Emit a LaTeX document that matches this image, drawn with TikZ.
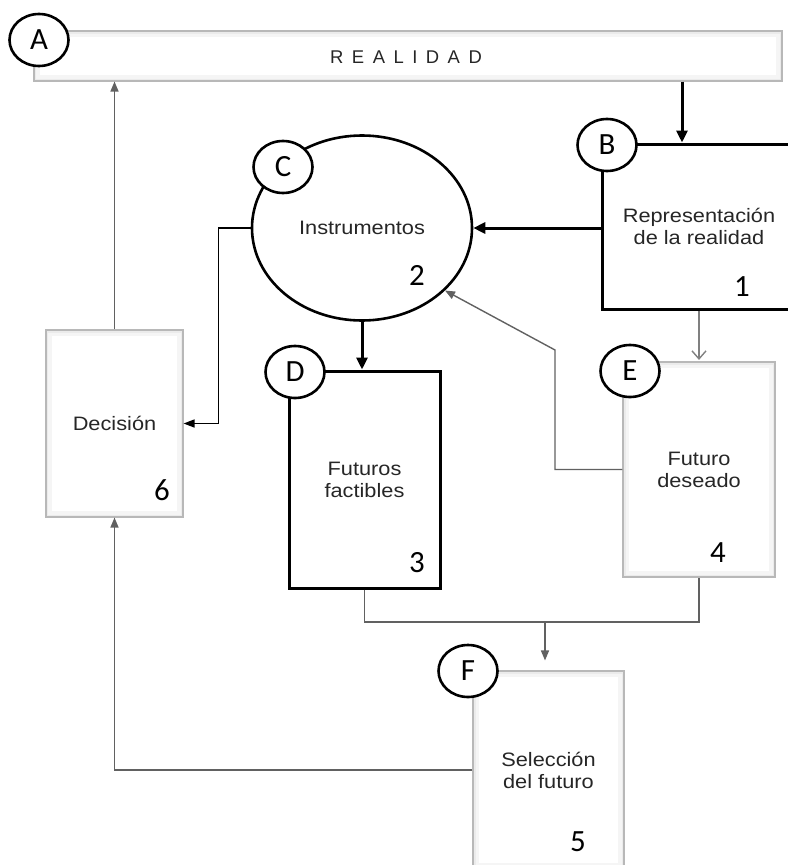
\documentclass[tikz,border=0pt]{standalone}
\usepackage{fontspec}
\usepackage{graphicx}
\setmainfont{Liberation Sans}
\newfontfamily\numfont{Carlito}
\usetikzlibrary{shapes.geometric,arrows.meta}
\newcommand\wt[1]{\scalebox{1.12}[1]{#1}}
\tikzset{
  lightbox/.style={rectangle, draw=black!28, line width=1.1bp, fill=white, inner sep=0pt,
    path picture={\draw[black!4, line width=12bp] (path picture bounding box.south west) rectangle (path picture bounding box.north east);
                  \draw[black!8, line width=5bp] (path picture bounding box.south west) rectangle (path picture bounding box.north east);},
    font=\fontsize{19.5}{22}\selectfont, align=center, text=black!85},
  darkbox/.style={rectangle, draw=black, line width=3bp, fill=white, inner sep=0pt,
    font=\fontsize{19.5}{22}\selectfont, align=center, text=black!85},
  tag/.style={ellipse, draw=black, line width=2.6bp, fill=white, minimum width=59bp,
    minimum height=52bp, inner sep=0pt, font=\numfont\fontsize{31}{31}\selectfont},
  numlabel/.style={inner sep=0pt, font=\numfont\fontsize{31}{31}\selectfont},
  bigarrow/.style={line width=3bp, draw=black, -{Triangle[length=12bp,width=11bp]}},
  thinblack/.style={line width=1.5bp, draw=black, -{Triangle[length=11bp,width=8bp]}},
  thingray/.style={line width=1.4bp, draw=black!62},
  grayarrow/.style={thingray, -{Triangle[length=10bp,width=8bp]}},
  openarrow/.style={thingray, draw=black!50, -{Straight Barb[length=8bp,width=14bp]}}
}
\begin{document}
\begin{tikzpicture}[x=1bp, y=-1bp]
\useasboundingbox (0,0) rectangle (788,865);
\clip (0,0) rectangle (788,865);

% boxes
\node[lightbox, minimum width=748bp, minimum height=50bp] (real) at (408,56) {};
\node[inner sep=0pt, font=\fontsize{18.5}{18.5}\selectfont, text=black!85] (realtxt) at (406,57)
  {R\kern8.5bp E\kern8.5bp A\kern8.5bp L\kern8.5bp I\kern8.5bp D\kern8.5bp A\kern8.5bp D};

\node[darkbox, minimum width=194bp, minimum height=165bp] (Bbox) at (699,226.5)
  {\wt{Representación}\\\wt{de la realidad}};
\node[ellipse, draw=black, line width=2.6bp, fill=white, minimum width=220bp,
  minimum height=185bp, inner sep=0pt, font=\fontsize{19.5}{22}\selectfont, text=black!85]
  (C) at (362,228) {\wt{Instrumentos}};
\node[lightbox, minimum width=137bp, minimum height=187bp] (Dec) at (114.5,423.5) {\wt{Decisión}};
\node[darkbox, minimum width=151bp, minimum height=217bp] (Dbox) at (364.5,479.5)
  {\wt{Futuros}\\\wt{factibles}};
\node[lightbox, minimum width=152bp, minimum height=215bp] (Ebox) at (699,469.5)
  {\wt{Futuro}\\\wt{deseado}};
\node[lightbox, minimum width=151bp, minimum height=198bp] (Fbox) at (548.5,770)
  {\wt{Selección}\\\wt{del futuro}};

% numbers
\node[numlabel] (n1) at (742,287) {1};
\node[numlabel] (n2) at (417,275) {2};
\node[numlabel] (n3) at (417,563) {3};
\node[numlabel] (n4) at (718,553) {4};
\node[numlabel] (n5) at (578,842) {5};
\node[numlabel] (n6) at (162,490) {6};

% connectors
\coordinate (rb) at (682,0);
\draw[bigarrow] (real.south -| rb) -- (Bbox.north -| rb);
\draw[bigarrow] (C.east -| Bbox.west) -- (C.east);
\draw[bigarrow] (C.south) -- (C.south |- Dbox.north);
\draw[thinblack] (C.west) -- ++(-32,0) |- (Dec.east);
\draw[grayarrow] (Dec.north) -- (Dec.north |- real.south);
\draw[openarrow] (Ebox.north |- Bbox.south) -- ([yshift=1.5bp]Ebox.north);
\coordinate (ec) at (555,350);
\draw[grayarrow] (Ebox.west) -| (ec) -- (C.-37);
\coordinate (jn) at (545,622);
\draw[thingray] (Dbox.south) |- (jn) -| (Ebox.south);
\draw[grayarrow, shorten >=10bp] (jn) -- (jn |- Fbox.north);
\draw[grayarrow] (Fbox.west) -| (Dec.south);

% tags
\node[tag] (tA) at (39,40) {A};
\node[tag] (tB) at (607,145) {B};
\node[tag] (tC) at (283,167) {C};
\node[tag] (tD) at (295,372) {D};
\node[tag] (tE) at (630,371) {E};
\node[tag] (tF) at (468,671) {F};
\end{tikzpicture}
\end{document}
